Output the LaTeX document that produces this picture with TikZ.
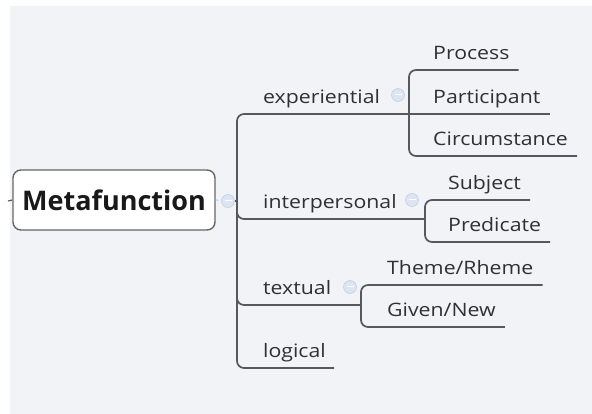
\documentclass[tikz,border=0pt]{standalone}
\usepackage{fontspec}
\setmainfont{Open Sans}
\newfontfamily\branchfont{Open Sans}[FakeStretch=1.15]
\usetikzlibrary{positioning}
\definecolor{bgcol}{HTML}{F2F3F7}
\definecolor{linecol}{HTML}{55595F}
\definecolor{txtcol}{HTML}{303030}
\definecolor{foldfill}{HTML}{DCE5F1}
\definecolor{folddraw}{HTML}{C3D1E2}
\begin{document}
\begin{tikzpicture}[
  x=1pt, y=-1pt,
  topic/.style={rectangle, draw=black!60, fill=white, line width=1.4pt, rounded corners=8pt, minimum width=202pt, minimum height=60pt, font=\fontsize{27}{30}\selectfont\bfseries, text=black!90},
  sub/.style={anchor=south west, inner xsep=0pt, inner ysep=6pt, text depth=4pt, font=\branchfont\fontsize{18.5}{20}\selectfont, text=txtcol},
  branch/.style={draw=linecol, line width=1.7pt, rounded corners=7pt},
  fold/.style={circle, fill=foldfill, draw=folddraw, line width=0.6pt, minimum size=13pt, inner sep=0pt,
    path picture={\draw[white, line width=1pt] ([xshift=-3.5pt]path picture bounding box.center) -- ([xshift=3.5pt]path picture bounding box.center);}}
]
% canvas
\fill[white] (0,0) rectangle (592,414);
\fill[bgcol] (10,6) rectangle (592,414);
\useasboundingbox (0,0) rectangle (592,414);

% central topic
\node[topic] (root) at (114,200) {Metafunction};
\coordinate (stub) at (8,201);
\node[fold] (croot) at (228,201) {};
\coordinate (trunk) at (237,201);

% main branches
\node[sub] (exp) at (263,114) {experiential};
\node[sub] (inter) at (263,219) {interpersonal};
\node[sub] (textual) at (263,305) {textual};
\node[sub] (logic) at (263,368) {logical};

\node[fold] (cexp) at (398,95) {};
\node[fold] (cinter) at (412,200) {};
\node[fold] (ctextual) at (350,287) {};

\coordinate (jexp) at (409,114);
\coordinate (jinter) at (425,219);
\coordinate (jtextual) at (361,305);

% leaves
\node[sub] (proc) at (433,70) {Process};
\node[sub] (part) at (433,114) {Participant};
\node[sub] (circ) at (433,156) {Circumstance};
\node[sub] (subj) at (448,200) {Subject};
\node[sub] (pred) at (448,242) {Predicate};
\node[sub] (theme) at (387,285) {Theme/Rheme};
\node[sub] (given) at (387,327) {Given/New};

% connectors
\draw[linecol, line width=1.2pt] (stub) -- (root.west);
\draw[folddraw, line width=1.2pt, dashed] (root.east) -- (croot);
\draw[branch] (croot) -- (trunk);
\draw[branch] (trunk) |- (jexp);
\draw[branch] (trunk) |- (jinter);
\draw[branch] (trunk) |- (jtextual);
\draw[branch] (trunk) |- ([xshift=8pt]logic.south east);

\draw[branch] (jexp) |- ([xshift=9pt]proc.south east);
\draw[branch] (jexp) -- ([xshift=9pt]part.south east);
\draw[branch] (jexp) |- ([xshift=9pt]circ.south east);
\draw[branch] (jinter) |- ([xshift=9pt]subj.south east);
\draw[branch] (jinter) |- ([xshift=9pt]pred.south east);
\draw[branch] (jtextual) |- ([xshift=9pt]theme.south east);
\draw[branch] (jtextual) |- ([xshift=9pt]given.south east);
\end{tikzpicture}
\end{document}
